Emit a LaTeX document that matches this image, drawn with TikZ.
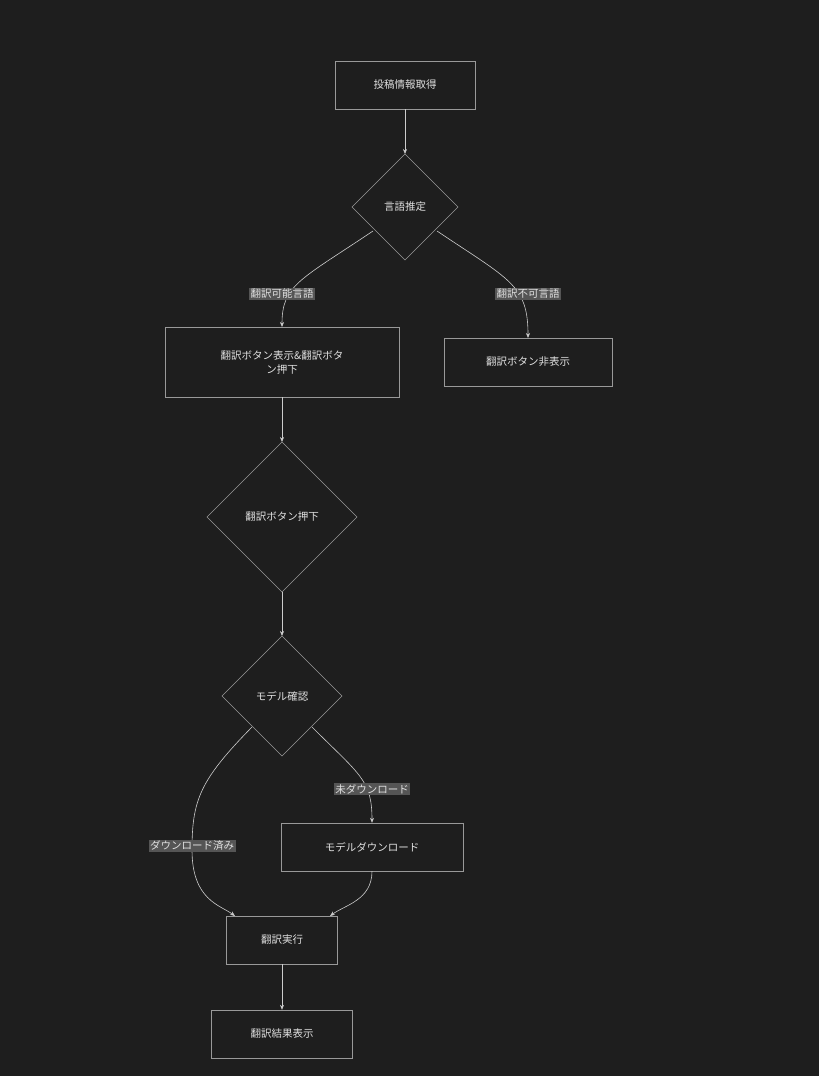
\documentclass[tikz,border=0pt]{standalone}
\usepackage{fontspec}
\setmainfont{Noto Sans CJK JP}
\begin{document}
\begin{tikzpicture}[x=1pt,y=-1pt,
  bx/.style={draw=gray!80,fill=bgc,text=txt,font=\fontsize{10.5}{14}\selectfont,inner sep=0},
  lbl/.style={fill=lblc,text=txt,font=\fontsize{10.5}{13}\selectfont,inner sep=1.5pt},
  ln/.style={draw=lnc,line width=0.6pt,-{Stealth[length=5pt,width=4pt]}},
  txtn/.style={text=txt,font=\fontsize{10.5}{14}\selectfont}]
\definecolor{bgc}{HTML}{1E1E1E}\definecolor{txt}{HTML}{E0E0E0}
\definecolor{lblc}{HTML}{555555}\definecolor{lnc}{HTML}{CCCCCC}
\usetikzlibrary{arrows.meta}
\fill[bgc] (0,0) rectangle (819,1076);
\useasboundingbox (0,0) rectangle (819,1076);
\node[bx,minimum width=140,minimum height=48] (n1) at (405,85) {投稿情報取得};
\draw[draw=gray!80] (405,154)--(458,207)--(405,260)--(352,207)--cycle;
\node[txtn] (d1) at (405,207) {言語推定};
\node[bx,minimum width=234,minimum height=70,align=center] (b2) at (282,362) {翻訳ボタン表示\&翻訳ボタ\\ン押下};
\node[bx,minimum width=168,minimum height=48] (b3) at (528,362) {翻訳ボタン非表示};
\draw[draw=gray!80] (282,442)--(357,517)--(282,592)--(207,517)--cycle;
\node[txtn] (d2) at (282,517) {翻訳ボタン押下};
\draw[draw=gray!80] (282,636)--(342,696)--(282,756)--(222,696)--cycle;
\node[txtn] (d3) at (282,696) {モデル確認};
\node[bx,minimum width=182,minimum height=48] (b4) at (372,847) {モデルダウンロード};
\node[bx,minimum width=111,minimum height=48] (b5) at (282,940) {翻訳実行};
\node[bx,minimum width=141,minimum height=48] (b6) at (282,1034) {翻訳結果表示};
\coordinate (a1) at (373,231); \coordinate (a2) at (437,231);
\coordinate (a3) at (252,727); \coordinate (a4) at (312,727);
\coordinate (t1) at (405,154); \coordinate (t2) at (282,442); \coordinate (t3) at (282,636);
\draw[ln] (n1.south)--(t1);
\draw[ln] (a1) .. controls (300,280) and (282,285) .. (282,327);
\draw[ln] (a2) .. controls (510,280) and (528,285) .. (528,338);
\draw[ln] (b2.south)--(t2);
\draw[ln] (282,592)--(t3);
\draw[ln] (a3) .. controls (200,780) and (192,800) .. (192,850) .. controls (192,900) and (220,905) .. (235,916);
\draw[ln] (a4) .. controls (360,775) and (372,780) .. (b4.north);
\draw[ln] (b4.south) .. controls (372,900) and (345,905) .. (330,916);
\draw[ln] (b5.south)--(b6.north);
\node[lbl] (l1) at (282,294) {翻訳可能言語};
\node[lbl] (l2) at (528,294) {翻訳不可言語};
\node[lbl] (l3) at (372,789) {未ダウンロード};
\node[lbl] (l4) at (192,846) {ダウンロード済み};
\end{tikzpicture}
\end{document}
